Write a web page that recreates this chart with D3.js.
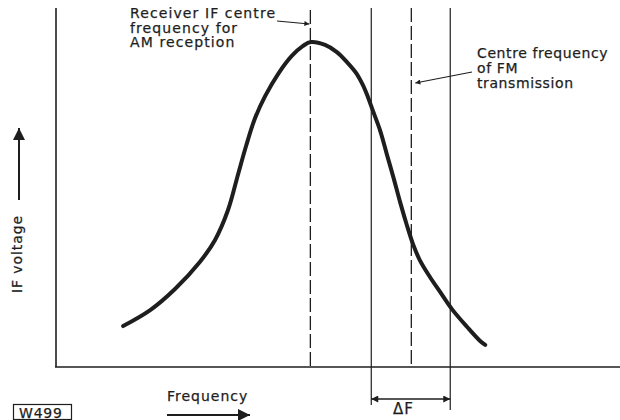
<!DOCTYPE html>
<html>
<head>
<meta charset="utf-8">
<script src="https://cdn.jsdelivr.net/npm/d3@7"></script>
<style>
  html, body { margin: 0; padding: 0; background: #fff; }
  svg { display: block; }
  text { font-family: "DejaVu Sans", sans-serif; fill: #1e1e1e; stroke: #1e1e1e; stroke-width: 0.25px; }
</style>
</head>
<body>
<svg id="chart" width="620" height="420"></svg>
<script>
// IF response curve: frequency (arbitrary units) vs IF voltage (% of peak)
const frequency = [11.9, 16.7, 21.1, 25.5, 28.2, 30.5, 32.3, 33.7, 35.3, 37.1, 39.4, 41.8, 43.8, 45.2,
                   47.7, 49.8, 51.6, 53.2, 54.4, 55.3, 56.2, 57.5, 58.7, 59.8, 61.0, 62.2, 63.3,
                   64.5, 66.3, 68.1, 70.2, 72.9, 75.2, 76.1];
const voltage   = [12.6, 17.5, 24.0, 32.3, 39.1, 48.3, 59.4, 68.0, 76.6, 83.4, 90.2, 95.7, 98.8, 100,
                   99.1, 96.9, 93.8, 90.5, 86.8, 83.1, 78.8, 72.6, 65.2, 58.5, 50.8, 43.7, 37.8,
                   32.9, 27.7, 23.1, 17.8, 12.3, 8.0, 6.8];

// Marker frequencies
const amCentre = 45.1;            // receiver IF centre for AM reception
const fmCentre = 63.0;            // centre frequency of FM transmission
const deviation = [55.9, 69.9];   // edges of the swing, ΔF

const amLabel = ["Receiver IF centre", "frequency for", "AM reception"];
const fmLabel = ["Centre frequency", "of FM", "transmission"];

const ink = "#1e1e1e";
const svg = d3.select("#chart");

const x = d3.scaleLinear().domain([0, 100]).range([56, 620]);
const y = d3.scaleLinear().domain([0, 100]).range([367, 42]);
const yTop = 8;

// arrowhead markers
const defs = svg.append("defs");
function head(id, w, h) {
  defs.append("marker")
    .attr("id", id).attr("viewBox", "0 0 10 10")
    .attr("refX", 10).attr("refY", 5)
    .attr("markerWidth", w).attr("markerHeight", h)
    .attr("markerUnits", "userSpaceOnUse")
    .attr("orient", "auto-start-reverse")
    .append("path").attr("d", "M0,0 L10,5 L0,10 Z").attr("fill", ink);
}
head("small", 8, 5);
head("mid", 10, 7);
head("big", 13, 12);

// axes
svg.append("line").attr("x1", x(0)).attr("x2", x(0)).attr("y1", yTop).attr("y2", y(0))
  .attr("stroke", ink).attr("stroke-width", 1.6);
svg.append("line").attr("x1", x(0) - 1).attr("x2", x(100)).attr("y1", y(0)).attr("y2", y(0))
  .attr("stroke", ink).attr("stroke-width", 1.6);

// vertical reference lines
[amCentre, fmCentre].forEach((f, i) => {
  svg.append("line")
    .attr("x1", x(f)).attr("x2", x(f))
    .attr("y1", i === 0 ? 10 : yTop).attr("y2", y(0))
    .attr("stroke", ink).attr("stroke-width", 1.3)
    .attr("stroke-dasharray", "14,4");
});
deviation.forEach((f, i) => {
  svg.append("line")
    .attr("x1", x(f)).attr("x2", x(f))
    .attr("y1", yTop).attr("y2", i === 0 ? 405 : 410)
    .attr("stroke", ink).attr("stroke-width", 1.2);
});

// response curve
const line = d3.line()
  .x((d, i) => x(frequency[i]))
  .y((d, i) => y(voltage[i]))
  .curve(d3.curveCatmullRom.alpha(0.5));
svg.append("path")
  .datum(frequency)
  .attr("d", line)
  .attr("fill", "none")
  .attr("stroke", ink)
  .attr("stroke-width", 4)
  .attr("stroke-linecap", "round");

// ΔF dimension
svg.append("line")
  .attr("x1", x(deviation[0])).attr("x2", x(deviation[1]))
  .attr("y1", 399).attr("y2", 399)
  .attr("stroke", ink).attr("stroke-width", 1.4)
  .attr("marker-start", "url(#mid)").attr("marker-end", "url(#mid)");
svg.append("text")
  .attr("x", 393).attr("y", 414)
  .attr("font-size", 15).attr("letter-spacing", 1)
  .text("ΔF");

// AM annotation
const amText = svg.append("text").attr("font-size", 14).attr("letter-spacing", 1.1);
amLabel.forEach((s, i) => amText.append("tspan").attr("x", 130).attr("y", 18 + i * 14.5).text(s));
svg.append("line")
  .attr("x1", 277).attr("y1", 21).attr("x2", x(amCentre) - 1).attr("y2", 24)
  .attr("stroke", ink).attr("stroke-width", 1.2)
  .attr("marker-end", "url(#small)");

// FM annotation
const fmText = svg.append("text").attr("font-size", 14).attr("letter-spacing", 0.6);
fmLabel.forEach((s, i) => fmText.append("tspan").attr("x", 477).attr("y", 58 + i * 15).text(s));
svg.append("line")
  .attr("x1", 472).attr("y1", 72).attr("x2", x(fmCentre) + 4).attr("y2", 83)
  .attr("stroke", ink).attr("stroke-width", 1.2)
  .attr("marker-end", "url(#small)");

// axis titles with arrows
svg.append("text")
  .attr("transform", "translate(22,293) rotate(-90)")
  .attr("font-size", 14).attr("letter-spacing", 0.9)
  .text("IF  voltage");
svg.append("line")
  .attr("x1", 19).attr("x2", 19).attr("y1", 200).attr("y2", 128)
  .attr("stroke", ink).attr("stroke-width", 2)
  .attr("marker-end", "url(#big)");

svg.append("text")
  .attr("x", 167).attr("y", 401).attr("font-size", 14).attr("letter-spacing", 1)
  .text("Frequency");
svg.append("line")
  .attr("x1", 167).attr("x2", 250).attr("y1", 415).attr("y2", 415)
  .attr("stroke", ink).attr("stroke-width", 2)
  .attr("marker-end", "url(#big)");

// figure reference tag
svg.append("rect").attr("x", 13.5).attr("y", 404.5).attr("width", 58).attr("height", 15)
  .attr("fill", "none").attr("stroke", ink).attr("stroke-width", 1.2);
svg.append("text").attr("x", 19).attr("y", 417.5)
  .attr("font-size", 14).attr("letter-spacing", 0.8).text("W499");
</script>
</body>
</html>
